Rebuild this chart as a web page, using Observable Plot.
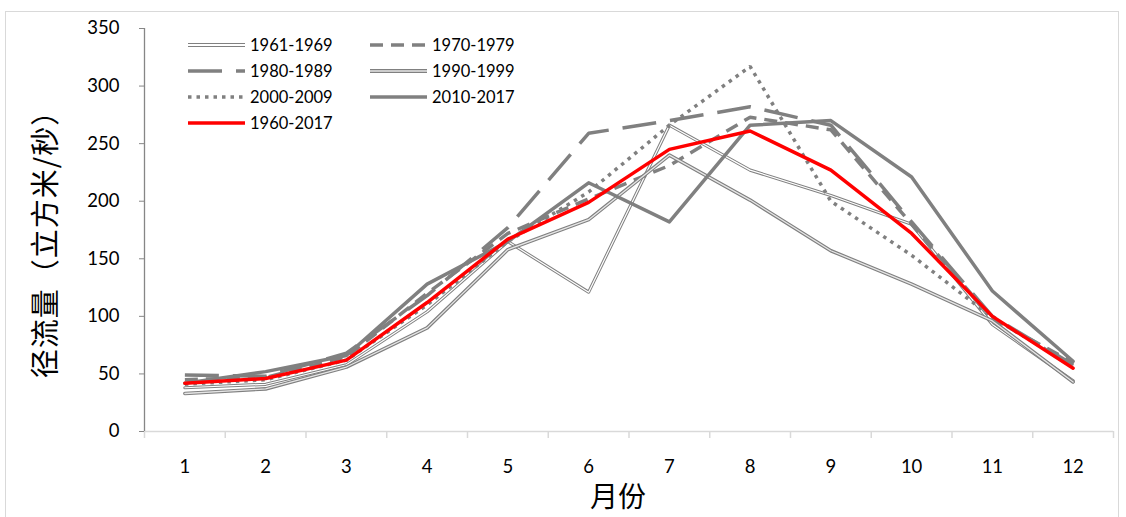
<!DOCTYPE html>
<html>
<head>
<meta charset="utf-8">
<script src="https://cdn.jsdelivr.net/npm/d3@7"></script>
<script src="https://cdn.jsdelivr.net/npm/@observablehq/plot@0.6"></script>
<style>
  body { margin: 0; background: #fff; }
  #wrap { position: relative; width: 1126px; height: 517px; overflow: hidden; background: #fff; }
  #frame { position: absolute; left: 5px; top: 11px; width: 1114px; height: 520px; border: 1px solid #d9d9d9; box-sizing: border-box; }
  #chart { position: absolute; left: 0; top: 0; }
  .ytitle { position: absolute; left: 43px; top: 237px; transform: translate(-50%, -50%) rotate(-90deg); font-family: "Noto Sans CJK SC", sans-serif; font-size: 29px; letter-spacing: 1px; white-space: nowrap; color: #000; }
  .xtitle { position: absolute; left: 618px; top: 495px; transform: translate(-50%, -50%); font-family: "Noto Sans CJK SC", sans-serif; font-size: 28px; white-space: nowrap; color: #000; }
  .leg { position: absolute; display: flex; align-items: center; font-family: Lato, sans-serif; font-size: 16.5px; color: #000; height: 20px; }
  .leg svg { margin-right: 5px; }
</style>
</head>
<body>
<div id="wrap">
  <div id="frame"></div>
  <div id="chart"></div>
  <div class="ytitle">径流量（立方米/秒）</div>
  <div class="xtitle">月份</div>
</div>
<script>
// ---- data ----
const months = [1, 2, 3, 4, 5, 6, 7, 8, 9, 10, 11, 12];
const yTicks = [0, 50, 100, 150, 200, 250, 300, 350];
const seriesNames = ["1961-1969", "1970-1979", "1980-1989", "1990-1999", "2000-2009", "2010-2017", "1960-2017"];
const v1961_1969 = [38, 41, 58, 104, 165, 121, 266, 227, 205, 180, 93, 44];
const v1970_1979 = [45, 47, 65, 120, 172, 202, 231, 273, 262, 180, 98, 60];
const v1980_1989 = [49, 48, 68, 118, 177, 259, 270, 282, 266, 182, 100, 58];
const v1990_1999 = [33, 37, 56, 90, 158, 184, 240, 201, 157, 128, 96, 43];
const v2000_2009 = [41, 45, 62, 110, 165, 208, 266, 317, 200, 153, 99, 57];
const v2010_2017 = [42, 52, 66, 128, 165, 216, 182, 266, 270, 221, 122, 61];
const v1960_2017 = [42, 46, 62, 112, 167, 199, 245, 261, 227, 172, 100, 55];
const seriesValues = [v1961_1969, v1970_1979, v1980_1989, v1990_1999, v2000_2009, v2010_2017, v1960_2017];

// ---- styles (not data) ----
const GRAY = "#808080";
const styles = [
  { kind: "double", w: 3.2, inner: "#ffffff", iw: 1.2, lw: 4, liw: 2 },
  { kind: "dash", w: 3.5, dash: "13,8" },
  { kind: "dash", w: 3.5, dash: "34,14" },
  { kind: "double", w: 3.6, inner: "#e6e6e6", iw: 1.3, lw: 4, liw: 1.5 },
  { kind: "dash", w: 3.5, dash: "3.5,5" },
  { kind: "solid", w: 3.5 },
  { kind: "red", w: 3.5 }
];

const table = seriesNames.flatMap((name, i) =>
  months.map((m, j) => ({ series: name, month: m, value: seriesValues[i][j] })));
const boundaries = months.map(m => m - 0.5).concat([months[months.length - 1] + 0.5]);

const lineMarks = [];
seriesNames.forEach((name, i) => {
  const st = styles[i];
  const data = table.filter(d => d.series === name);
  const base = { x: "month", y: "value", strokeLinejoin: "round" };
  if (st.kind === "double") {
    lineMarks.push(Plot.line(data, { ...base, stroke: GRAY, strokeWidth: st.w }));
    lineMarks.push(Plot.line(data, { ...base, stroke: st.inner, strokeWidth: st.iw }));
  } else if (st.kind === "dash") {
    lineMarks.push(Plot.line(data, { ...base, stroke: GRAY, strokeWidth: st.w, strokeDasharray: st.dash, strokeLinecap: "butt", strokeLinejoin: "miter" }));
  } else if (st.kind === "solid") {
    lineMarks.push(Plot.line(data, { ...base, stroke: GRAY, strokeWidth: st.w }));
  } else {
    lineMarks.push(Plot.line(data, { ...base, stroke: "#ff0000", strokeWidth: st.w }));
  }
});

const chart = Plot.plot({
  width: 1126,
  height: 517,
  marginLeft: 144,
  marginRight: 13,
  marginTop: 28,
  marginBottom: 86,
  style: { fontFamily: "Lato, sans-serif", fontSize: "18px", color: "#000", background: "transparent" },
  x: { type: "linear", domain: [0.5, 12.5], label: null },
  y: { domain: [0, 350], label: null },
  marks: [
    Plot.ruleY([0], { stroke: "#d9d9d9", strokeWidth: 1.5 }),
    Plot.axisX({ ticks: boundaries, tickSize: 7, tickFormat: () => "", stroke: "#d9d9d9", strokeWidth: 1.5, label: null }),
    Plot.axisX({ ticks: months, tickSize: 0, tickPadding: 28, tickFormat: d => String(d), fontSize: 18.5, fill: "#000", label: null }),
    Plot.ruleX([0.5], { stroke: "#868686", strokeWidth: 1.3 }),
    Plot.axisY({ ticks: yTicks, tickSize: 5, tickPadding: 20, stroke: "#868686", fontSize: 18.5, fill: "#000", label: null }),
    ...lineMarks
  ]
});
document.getElementById("chart").appendChild(chart);

// ---- legend (HTML overlay) ----
const legendPos = [
  [188, 45], [370, 45],
  [188, 71], [370, 71],
  [188, 97], [370, 97],
  [188, 123]
];
const wrap = document.getElementById("wrap");
seriesNames.forEach((name, i) => {
  const st = styles[i];
  const [lx, ly] = legendPos[i];
  const div = document.createElement("div");
  div.className = "leg";
  div.style.left = lx + "px";
  div.style.top = (ly - 10) + "px";
  const ns = "http://www.w3.org/2000/svg";
  const svg = document.createElementNS(ns, "svg");
  svg.setAttribute("width", 57);
  svg.setAttribute("height", 12);
  const mk = (stroke, w, dash) => {
    const l = document.createElementNS(ns, "line");
    l.setAttribute("x1", 0); l.setAttribute("x2", 57);
    l.setAttribute("y1", 6); l.setAttribute("y2", 6);
    l.setAttribute("stroke", stroke);
    l.setAttribute("stroke-width", w);
    if (dash) l.setAttribute("stroke-dasharray", dash);
    svg.appendChild(l);
  };
  if (st.kind === "double") { mk(GRAY, st.lw); mk(st.inner, st.liw); }
  else if (st.kind === "dash") mk(GRAY, st.w, st.dash);
  else if (st.kind === "solid") mk(GRAY, st.w);
  else mk("#ff0000", st.w);
  div.appendChild(svg);
  const span = document.createElement("span");
  span.textContent = name;
  div.appendChild(span);
  wrap.appendChild(div);
});
</script>
</body>
</html>
